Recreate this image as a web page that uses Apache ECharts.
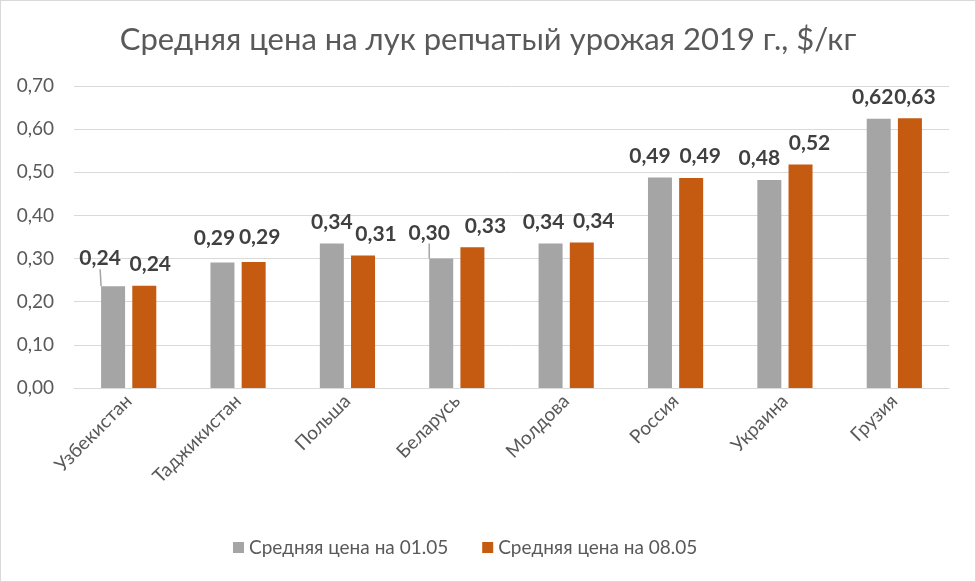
<!DOCTYPE html>
<html><head><meta charset="utf-8">
<script src="https://cdn.jsdelivr.net/npm/echarts@6/dist/echarts.min.js"></script>
<style>
html,body{margin:0;padding:0;background:#fff;}
#c{width:974px;height:580px;border:1px solid #d9d9d9;}
</style></head>
<body><div id="c"></div>
<script>
const categories = ['Узбекистан','Таджикистан','Польша','Беларусь','Молдова','Россия','Украина','Грузия'];
const price0105 = [0.236, 0.291, 0.335, 0.300, 0.335, 0.488, 0.482, 0.624];
const price0805 = [0.237, 0.292, 0.307, 0.326, 0.337, 0.487, 0.518, 0.625];
const seriesNames = ['Средняя цена на 01.05', 'Средняя цена на 08.05'];
const yTicks = [0, 0.1, 0.2, 0.3, 0.4, 0.5, 0.6, 0.7];

const fmt = v => v.toFixed(2).replace('.', ',');
const chart = echarts.init(document.getElementById('c'));
const labelStyle = {show:true, position:'top', distance:11, fontFamily:'Lato', fontSize:21, fontWeight:'bold', color:'#404040',
  formatter: p => fmt(p.value)};
// label nudges (dx, dy) as placed in the reference
const moved = {
  0:{0:[-13,-6],1:[-8,-3],2:[0,0],3:[-12,-4],4:[-7,0],5:[-10,0],6:[-10,0],7:[-6,0]},
  1:{0:[6,0],1:[6,-3],2:[13,0],3:[13,0],4:[12,0],5:[9,0],6:[9,0],7:[5,0]}
};
const withLine = [0, 3];
chart.setOption({
  animation:false,
  title:{text:'Средняя цена на лук репчатый урожая 2019 г., $/кг', left:'center', top:18,
    textStyle:{fontFamily:'Lato', fontSize:31, fontWeight:'normal', color:'#595959'}},
  grid:{left:73, right:26, top:85, bottom:193},
  legend:{bottom:19, left:227, itemWidth:11, itemHeight:11, itemGap:34, icon:'rect',
    textStyle:{fontFamily:'Lato', fontSize:19, color:'#595959'}},
  xAxis:{type:'category', data:categories,
    axisLine:{lineStyle:{color:'#d9d9d9'}}, axisTick:{show:false},
    axisLabel:{rotate:45, interval:0, fontFamily:'Lato', fontSize:19, color:'#595959', margin:10}},
  yAxis:{type:'value', min:0, max:0.7, interval:0.1,
    axisLine:{show:false}, axisTick:{show:false},
    splitLine:{lineStyle:{color:'#d9d9d9'}},
    axisLabel:{fontFamily:'Lato', fontSize:19, color:'#595959', margin:20, formatter: v => fmt(v)}},
  labelLayout: p => {
    const m = moved[p.seriesIndex] && moved[p.seriesIndex][p.dataIndex];
    return m ? {dx:m[0], dy:m[1]} : {};
  },
  series:[
    {name:seriesNames[0], type:'bar', barWidth:24, barGap:'30%',
     data:price0105.map((v,i) => withLine.includes(i) ? {value:v, labelLine:{show:true}} : v),
     itemStyle:{color:'#a5a5a5'}, label:labelStyle,
     labelLine:{show:false, lineStyle:{color:'#a5a5a5', width:1.5}}},
    {name:seriesNames[1], type:'bar', data:price0805, barWidth:24,
     itemStyle:{color:'#c55a11'}, label:labelStyle}
  ]
});
</script></body></html>
